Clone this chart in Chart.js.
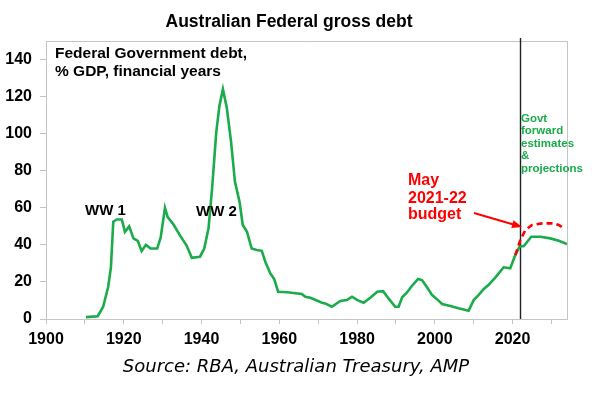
<!DOCTYPE html>
<html>
<head>
<meta charset="utf-8">
<script src="https://cdn.jsdelivr.net/npm/chart.js@4.4.1/dist/chart.umd.min.js"></script>
<style>
  html, body { margin: 0; padding: 0; background: #fff; }
</style>
</head>
<body>
<canvas id="chart" width="592" height="393"></canvas>
<script>
// Federal government gross debt, % of GDP, by financial year
var years = [
  1910.3, 1913.3, 1914.7, 1916, 1916.7, 1917.3, 1918.2, 1919.5, 1920.3, 1921.4,
  1922.5, 1923.6, 1924.6, 1925.7, 1926.9, 1928.6, 1929.5, 1930.6, 1931.3, 1932.8,
  1934.5, 1936.2, 1937.5, 1939.6, 1940.7, 1941.8, 1942.7, 1943.8, 1944.6, 1945.5,
  1946.5, 1947.6, 1948.6, 1949.8, 1950.6, 1951.7, 1952.9, 1954.2, 1955.5, 1956.4,
  1957.7, 1958.7, 1959.7, 1962, 1965.8, 1966.7, 1968, 1971, 1971.8, 1973.5,
  1975.7, 1977.4, 1978.7, 1980.1, 1981.7, 1983.4, 1985.2, 1986.7, 1988.1, 1989.8,
  1990.7, 1991.6, 1992.8, 1994.1, 1995.7, 1996.7, 1998, 1999.3, 2000.6, 2001.9,
  2004, 2006.1, 2008.7, 2010, 2011.3, 2012.6, 2013.8, 2015.6, 2017.7, 2019.4,
  2020.7, 2021.8, 2022.9, 2024.8, 2027.2, 2029.7, 2031.9, 2034
];
var debt = [
  1, 1.5, 6.6, 17.4, 28, 52.5, 53.7, 53.7, 47, 50,
  43.5, 42.2, 36.7, 40, 38, 38, 44, 60, 55, 51,
  45, 39.5, 33, 33.6, 38, 49, 70, 101, 115, 124,
  114, 95.6, 74, 63, 50.7, 47, 38, 37.2, 36.8, 30.9,
  24.6, 21.5, 14.7, 14.4, 13.5, 12, 11.5, 8.8, 8.4, 6.6,
  9.7, 10.2, 12, 10.2, 8.8, 11.5, 14.7, 15, 11.1, 6.6,
  6.6, 11.7, 14.2, 17.8, 21.6, 21, 17.1, 12.9, 10.6, 8.1,
  7, 5.8, 4.5, 10.2, 13, 16.2, 18.3, 22.5, 27.9, 27.3,
  34.5, 39, 39.4, 44.4, 44.4, 43.5, 42.2, 40.4
];

// May 2021-22 budget projection
var budgetYears = [2020.7, 2022, 2023.3, 2025, 2027.6, 2030.6, 2031.9, 2032.9];
var budgetDebt = [34.5, 42.6, 48, 50.7, 51.6, 51.6, 50.7, 49.4];

var xTicks = [1900, 1910, 1920, 1930, 1940, 1950, 1960, 1970, 1980, 1990, 2000, 2010, 2020, 2030];
var yTicks = [0, 20, 40, 60, 80, 100, 120, 140];
var forecastStart = 2021.8;

var GREEN = "#1aab4a";
var RED = "#ff0000";
var AXIS = "#c4c4c4";
var SANS = "'Liberation Sans', Arial, sans-serif";

function toPoints(xs, ys) {
  return xs.map(function (x, i) {
    return { x: x, y: ys[i] };
  });
}

var annotations = {
  id: "annotations",
  beforeDatasetsDraw: function (chart) {
    var ctx = chart.ctx;
    var area = chart.chartArea;
    var fx = Math.round(chart.scales.x.getPixelForValue(forecastStart)) + 0.5;
    ctx.save();
    ctx.strokeStyle = AXIS;
    ctx.lineWidth = 1;
    ctx.beginPath();
    ctx.moveTo(area.left, area.top + 0.5);
    ctx.lineTo(area.right + 0.5, area.top + 0.5);
    ctx.lineTo(area.right + 0.5, area.bottom);
    ctx.stroke();
    // start of forward estimates
    ctx.strokeStyle = "#222";
    ctx.lineWidth = 1.4;
    ctx.beginPath();
    ctx.moveTo(fx, area.top - 3);
    ctx.lineTo(fx, area.bottom);
    ctx.stroke();
    ctx.restore();
  },
  afterDraw: function (chart) {
    var ctx = chart.ctx;
    ctx.save();
    ctx.fillStyle = "#000";
    ctx.textBaseline = "alphabetic";
    ctx.textAlign = "center";
    ctx.font = "bold 17.5px " + SANS;
    ctx.fillText("Australian Federal gross debt", 289, 27);

    ctx.textAlign = "left";
    ctx.font = "bold 15.5px " + SANS;
    ctx.fillText("Federal Government debt,", 55, 58);
    ctx.fillText("% GDP, financial years", 55, 76);

    ctx.font = "bold 15px " + SANS;
    ctx.fillText("WW 1", 85, 215);
    ctx.fillText("WW 2", 196, 216);

    ctx.fillStyle = RED;
    ctx.font = "bold 16px " + SANS;
    ctx.fillText("May", 408, 185);
    ctx.fillText("2021-22", 408, 203);
    ctx.fillText("budget", 408, 219);

    // arrow to the budget line
    var x0 = 474, y0 = 213, x1 = 522, y1 = 227;
    var ang = Math.atan2(y1 - y0, x1 - x0);
    ctx.strokeStyle = RED;
    ctx.lineWidth = 2;
    ctx.beginPath();
    ctx.moveTo(x0, y0);
    ctx.lineTo(x1 - 8 * Math.cos(ang), y1 - 8 * Math.sin(ang));
    ctx.stroke();
    ctx.beginPath();
    ctx.moveTo(x1, y1);
    ctx.lineTo(x1 - 10 * Math.cos(ang) + 4 * Math.sin(ang), y1 - 10 * Math.sin(ang) - 4 * Math.cos(ang));
    ctx.lineTo(x1 - 10 * Math.cos(ang) - 4 * Math.sin(ang), y1 - 10 * Math.sin(ang) + 4 * Math.cos(ang));
    ctx.closePath();
    ctx.fill();

    ctx.fillStyle = GREEN;
    ctx.font = "bold 11.5px " + SANS;
    var lines = ["Govt", "forward", "estimates", "&", "projections"];
    lines.forEach(function (t, i) {
      ctx.fillText(t, 521, 122 + i * 12.4);
    });

    ctx.fillStyle = "#000";
    ctx.textAlign = "center";
    ctx.font = "oblique 18px 'DejaVu Sans', sans-serif";
    ctx.fillText("Source: RBA, Australian Treasury, AMP", 296, 372);
    ctx.restore();
  },
};

new Chart(document.getElementById("chart"), {
  type: "line",
  data: {
    datasets: [
      {
        label: "May 2021-22 budget",
        data: toPoints(budgetYears, budgetDebt),
        borderColor: RED,
        borderWidth: 2.6,
        borderDash: [6, 4],
        pointRadius: 0,
        order: 0,
      },
      {
        label: "Federal gross debt",
        data: toPoints(years, debt),
        borderColor: GREEN,
        borderWidth: 2.6,
        pointRadius: 0,
        order: 1,
      },
    ],
  },
  options: {
    responsive: false,
    animation: false,
    layout: { padding: { top: 41, right: 25, left: 0, bottom: 0 } },
    plugins: { legend: { display: false }, tooltip: { enabled: false } },
    scales: {
      x: {
        type: "linear",
        min: 1900,
        max: 2034,
        afterBuildTicks: function (s) {
          s.ticks = xTicks.map(function (v) { return { value: v }; });
        },
        afterFit: function (s) { s.height = 74; },
        ticks: {
          autoSkip: false,
          maxRotation: 0,
          padding: 6,
          color: "#000",
          font: { family: SANS, size: 16, weight: "bold" },
          callback: function (v) { return v % 20 === 0 ? String(v) : ""; },
        },
        grid: { drawOnChartArea: false, tickLength: 5, color: AXIS },
        border: { color: AXIS },
      },
      y: {
        min: 0,
        max: 150,
        afterBuildTicks: function (s) {
          s.ticks = yTicks.map(function (v) { return { value: v }; });
        },
        afterFit: function (s) { s.width = 46; },
        ticks: {
          padding: 8,
          color: "#000",
          font: { family: SANS, size: 16, weight: "bold" },
        },
        grid: { drawOnChartArea: false, tickLength: 6, color: AXIS },
        border: { color: AXIS },
      },
    },
  },
  plugins: [annotations],
});
</script>
</body>
</html>
